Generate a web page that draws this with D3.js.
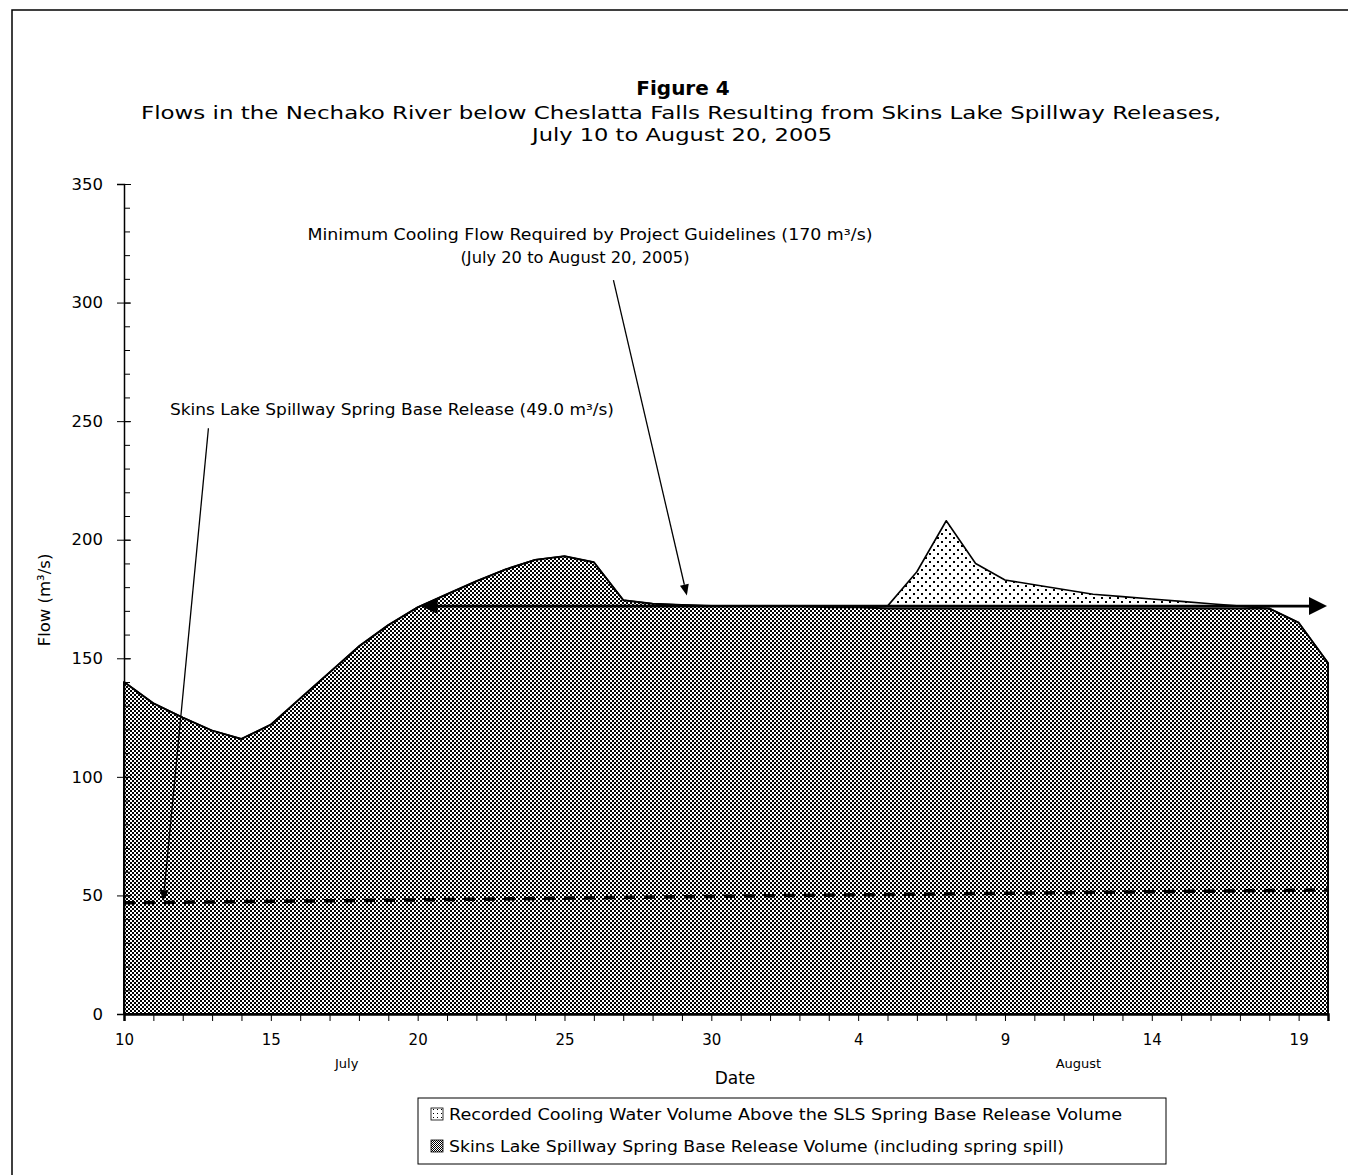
<!DOCTYPE html>
<html><head><meta charset="utf-8">
<script src="https://cdn.jsdelivr.net/npm/d3@7"></script>
<style>
body{margin:0;background:#fff}
svg{display:block}
text{font-family:"DejaVu Sans",sans-serif;fill:#000}
</style>
</head><body>
<svg id="c" width="1348" height="1175"></svg>
<script>
// ---------------- DATA ----------------
const startDate = new Date(2005, 6, 10);
const endDate = new Date(2005, 7, 20);
const dates = d3.timeDay.range(startDate, d3.timeDay.offset(endDate, 1)); // Jul 10 .. Aug 20 (42 days)

// Skins Lake Spillway spring base release volume (incl. spring spill), m3/s
const baseRelease = [
  140, 131, 125, 119.5, 116, 122, 133, 144, 155, 164,          // Jul 10-19
  171.5, 177, 182.5, 187.5, 191.5, 193, 190.5, 174.5, 173, 172.5, // Jul 20-29
  172, 172,                                                     // Jul 30-31
  172, 172, 171.5, 171.5, 171, 171, 171, 171, 171, 171,          // Aug 1-10
  171, 171, 171, 171, 171, 171, 171, 171, 165, 148               // Aug 11-20
];
// Recorded flow (base + cooling water above base), m3/s
const recordedFlow = [
  140, 131, 125, 119.5, 116, 122, 133, 144, 155, 164,
  171.5, 177, 182.5, 187.5, 191.5, 193, 190.5, 174.5, 173, 172.5,
  172, 172,
  172, 172, 171.5, 171.5, 172, 186.5, 208, 190, 183, 181,
  179, 177, 176, 175, 174, 173, 172, 171, 165, 148
];
// Spring base release dashed line
const springBaseDates = [new Date(2005,6,10), new Date(2005,6,20), new Date(2005,6,30), new Date(2005,7,9), new Date(2005,7,20)];
const springBaseValues = [46.9, 48.1, 49.6, 50.9, 52.3];
// Minimum cooling flow arrow
const coolingFlowLevel = 172;
const coolingPeriod = [new Date(2005,6,20), new Date(2005,7,20)];

const yTicks = [0, 50, 100, 150, 200, 250, 300, 350];
const yMinorTicks = d3.range(0, 351, 10);
const xLabelDates = [new Date(2005,6,10), new Date(2005,6,15), new Date(2005,6,20), new Date(2005,6,25), new Date(2005,6,30),
                     new Date(2005,7,4), new Date(2005,7,9), new Date(2005,7,14), new Date(2005,7,19)];
const xLabels = ["10", "15", "20", "25", "30", "4", "9", "14", "19"];
const monthLabels = ["July", "August"];
const monthLabelDates = [new Date(2005,6,17,14), new Date(2005,7,11,12)];

const titleText = "Figure 4";
const subtitleLines = ["Flows in the Nechako River below Cheslatta Falls Resulting from Skins Lake Spillway Releases,",
                       "July 10 to August 20, 2005"];
const coolingNote = ["Minimum Cooling Flow Required by Project Guidelines (170 m³/s)", "(July 20 to August 20, 2005)"];
const baseNote = "Skins Lake Spillway Spring Base Release (49.0 m³/s)";
const legendLabels = ["Recorded Cooling Water Volume Above the SLS Spring Base Release Volume",
                      "Skins Lake Spillway Spring Base Release Volume (including spring spill)"];
// leader arrows (data coordinates: [date, value])
const coolingLeader = [[new Date(2005,6,26,16), 309.5], [new Date(2005,6,29,4), 176.5]];
const baseLeader = [[new Date(2005,6,12,21), 247], [new Date(2005,6,11,8), 47.6]];

// ---------------- CHART ----------------
const svg = d3.select("#c");
const W = 1348, H = 1175;
svg.append("rect").attr("width", W).attr("height", H).attr("fill", "#fff");

const x = d3.scaleTime().domain([startDate, endDate]).range([124, 1328]);
const y = d3.scaleLinear().domain([0, 350]).range([1014, 184]);

const defs = svg.append("defs");
const hatch = defs.append("pattern").attr("id", "hatch").attr("patternUnits", "userSpaceOnUse")
  .attr("width", 4).attr("height", 4);
hatch.append("rect").attr("width", 4).attr("height", 4).attr("fill", "#fff");
hatch.append("rect").attr("x", 0).attr("y", 0).attr("width", 2).attr("height", 2).attr("fill", "#000");
hatch.append("rect").attr("x", 2).attr("y", 2).attr("width", 2).attr("height", 2).attr("fill", "#000");

const dots = defs.append("pattern").attr("id", "dots").attr("patternUnits", "userSpaceOnUse")
  .attr("width", 8).attr("height", 8);
dots.append("rect").attr("width", 8).attr("height", 8).attr("fill", "#fff");
dots.append("rect").attr("x", 1).attr("y", 1).attr("width", 2).attr("height", 2).attr("fill", "#000");
dots.append("rect").attr("x", 5).attr("y", 5).attr("width", 2).attr("height", 2).attr("fill", "#000");

const hatchSm = defs.append("pattern").attr("id", "hatchSm").attr("patternUnits", "userSpaceOnUse")
  .attr("width", 2).attr("height", 2);
hatchSm.append("rect").attr("width", 2).attr("height", 2).attr("fill", "#fff");
hatchSm.append("rect").attr("width", 1).attr("height", 1).attr("fill", "#000");
hatchSm.append("rect").attr("x", 1).attr("y", 1).attr("width", 1).attr("height", 1).attr("fill", "#000");

const dotsSm = defs.append("pattern").attr("id", "dotsSm").attr("patternUnits", "userSpaceOnUse")
  .attr("width", 4).attr("height", 4);
dotsSm.append("rect").attr("width", 4).attr("height", 4).attr("fill", "#fff");
dotsSm.append("rect").attr("x", 1).attr("y", 1).attr("width", 1).attr("height", 1).attr("fill", "#000");

// outer frame
svg.append("rect").attr("x", 12).attr("y", 10).attr("width", 1400).attr("height", 1300)
  .attr("fill", "none").attr("stroke", "#000").attr("stroke-width", 1.5);

// Title
svg.append("text").attr("x", 683).attr("y", 88).attr("dy", "0.35em").attr("text-anchor", "middle")
  .style("font-size", "20px").style("font-weight", "bold").text(titleText);

function fit(sel, w) {
  const fs = parseFloat(sel.style("font-size"));
  const L = sel.node().getComputedTextLength();
  sel.style("font-size", (fs * w / L) + "px");
  return sel;
}
function stretch(sel, w) {
  sel.attr("textLength", w).attr("lengthAdjust", "spacingAndGlyphs");
  return sel;
}
const sub1 = svg.append("text").attr("x", 681).attr("y", 113).attr("dy", "0.35em").attr("text-anchor", "middle")
  .style("font-size", "18px").text(subtitleLines[0]);
stretch(sub1, 1080);
const sub2 = svg.append("text").attr("x", 682).attr("y", 135).attr("dy", "0.35em").attr("text-anchor", "middle")
  .style("font-size", "18px").text(subtitleLines[1]);
stretch(sub2, 300);

// areas
const idx = d3.range(dates.length);
const areaTotal = d3.area().x(i => x(dates[i])).y0(i => y(baseRelease[i])).y1(i => y(recordedFlow[i]));
svg.append("path").attr("d", areaTotal(idx)).attr("fill", "url(#dots)").attr("stroke", "none");
svg.append("path").attr("d", d3.line().x(i => x(dates[i])).y(i => y(recordedFlow[i]))(idx))
  .attr("fill", "none").attr("stroke", "#000").attr("stroke-width", 1.6).attr("stroke-linejoin", "round");

const areaBase = d3.area().x(i => x(dates[i])).y0(y(0)).y1(i => y(baseRelease[i]));
svg.append("path").attr("d", areaBase(idx)).attr("fill", "url(#hatch)")
  .attr("stroke", "#000").attr("stroke-width", 2).attr("stroke-linejoin", "round");

// spring base dashed line
svg.append("path").attr("d", d3.line().x((d, i) => x(springBaseDates[i])).y(d => y(d))(springBaseValues))
  .attr("fill", "none").attr("stroke", "#000").attr("stroke-width", 3.5).attr("stroke-dasharray", "11,9");

// axes
const yAxis = svg.append("g").attr("transform", `translate(${x(startDate)},0)`)
  .call(d3.axisLeft(y).tickValues(yTicks).tickSize(7).tickPadding(14).tickFormat(d3.format("d")));
yAxis.select(".domain").attr("stroke-width", 1.5);
yAxis.selectAll("text").style("font-size", "16.5px");
const yMinor = svg.append("g").attr("transform", `translate(${x(startDate)},0)`)
  .call(d3.axisRight(y).tickValues(yMinorTicks).tickSize(6).tickFormat(""));
yMinor.select(".domain").remove();
const yMajIn = svg.append("g").attr("transform", `translate(${x(startDate)},0)`)
  .call(d3.axisRight(y).tickValues(yTicks).tickSize(7).tickFormat(""));
yMajIn.select(".domain").remove();

const labelMap = new Map(xLabelDates.map((d, i) => [+d, xLabels[i]]));
const xAxis = svg.append("g").attr("transform", `translate(0,${y(0)})`)
  .call(d3.axisBottom(x).tickValues(dates).tickSize(7).tickFormat(d => labelMap.get(+d) || ""));
xAxis.select(".domain").attr("stroke-width", 2.5);
xAxis.selectAll("text").attr("y", 26).attr("dy", "0.35em").style("font-size", "15px");

monthLabels.forEach((m, i) => {
  svg.append("text").attr("x", x(monthLabelDates[i])).attr("y", 1063).attr("dy", "0.35em")
    .attr("text-anchor", "middle").style("font-size", "13px").text(m);
});
svg.append("text").attr("x", 735).attr("y", 1078).attr("dy", "0.35em").attr("text-anchor", "middle")
  .style("font-size", "17px").text("Date");
svg.append("text").attr("transform", "translate(44,600) rotate(-90)").attr("dy", "0.35em")
  .attr("text-anchor", "middle").style("font-size", "16.5px").text("Flow (m³/s)");

// Cooling flow double arrow
function tri(tipX, tipY, dir, len, half) {
  return `M${tipX},${tipY} L${tipX - dir * len},${tipY - half} L${tipX - dir * len},${tipY + half} Z`;
}
const ya = y(coolingFlowLevel);
const xa0 = x(coolingPeriod[0]) + 3, xa1 = x(coolingPeriod[1]) - 1;
svg.append("line").attr("x1", xa0 + 10).attr("x2", xa1 - 10).attr("y1", ya).attr("y2", ya)
  .attr("stroke", "#000").attr("stroke-width", 2.6);
svg.append("path").attr("d", tri(xa0, ya, -1, 17, 8)).attr("fill", "#000");
svg.append("path").attr("d", tri(xa1, ya, 1, 18, 9)).attr("fill", "#000");

// annotations
const n1 = svg.append("text").attr("x", 590).attr("y", 235).attr("dy", "0.35em").attr("text-anchor", "middle")
  .style("font-size", "15px").text(coolingNote[0]);
stretch(n1, 565);
const n2 = svg.append("text").attr("x", 575).attr("y", 258).attr("dy", "0.35em").attr("text-anchor", "middle")
  .style("font-size", "15px").text(coolingNote[1]);
stretch(n2, 229);
const n3 = svg.append("text").attr("x", 170).attr("y", 410).attr("dy", "0.35em").attr("text-anchor", "start")
  .style("font-size", "15px").text(baseNote);
stretch(n3, 444);

function leader(pts) {
  const [a, b] = pts;
  const x1 = x(a[0]), y1 = y(a[1]), x2 = x(b[0]), y2 = y(b[1]);
  const ang = Math.atan2(y2 - y1, x2 - x1);
  const len = 11, half = 4.5;
  const bx = x2 - len * Math.cos(ang), by = y2 - len * Math.sin(ang);
  svg.append("line").attr("x1", x1).attr("y1", y1).attr("x2", bx).attr("y2", by)
    .attr("stroke", "#000").attr("stroke-width", 1.3);
  const px = -Math.sin(ang) * half, py = Math.cos(ang) * half;
  svg.append("path").attr("d", `M${x2},${y2} L${bx + px},${by + py} L${bx - px},${by - py} Z`).attr("fill", "#000");
}
leader(coolingLeader);
leader(baseLeader);

// legend
const lg = svg.append("g");
lg.append("rect").attr("x", 418).attr("y", 1098).attr("width", 748).attr("height", 66)
  .attr("fill", "#fff").attr("stroke", "#000").attr("stroke-width", 1);
const rowY = [1114, 1146];
const fills = ["url(#dotsSm)", "url(#hatchSm)"];
legendLabels.forEach((t, i) => {
  lg.append("rect").attr("x", 431).attr("y", rowY[i] - 6).attr("width", 12).attr("height", 12)
    .attr("fill", fills[i]).attr("stroke", "#000").attr("stroke-width", 0.8);
  const tx = lg.append("text").attr("x", 449).attr("y", rowY[i]).attr("dy", "0.35em")
    .style("font-size", "16px").text(t);
  stretch(tx, i === 0 ? 673 : 615);
});
</script>
</body></html>
